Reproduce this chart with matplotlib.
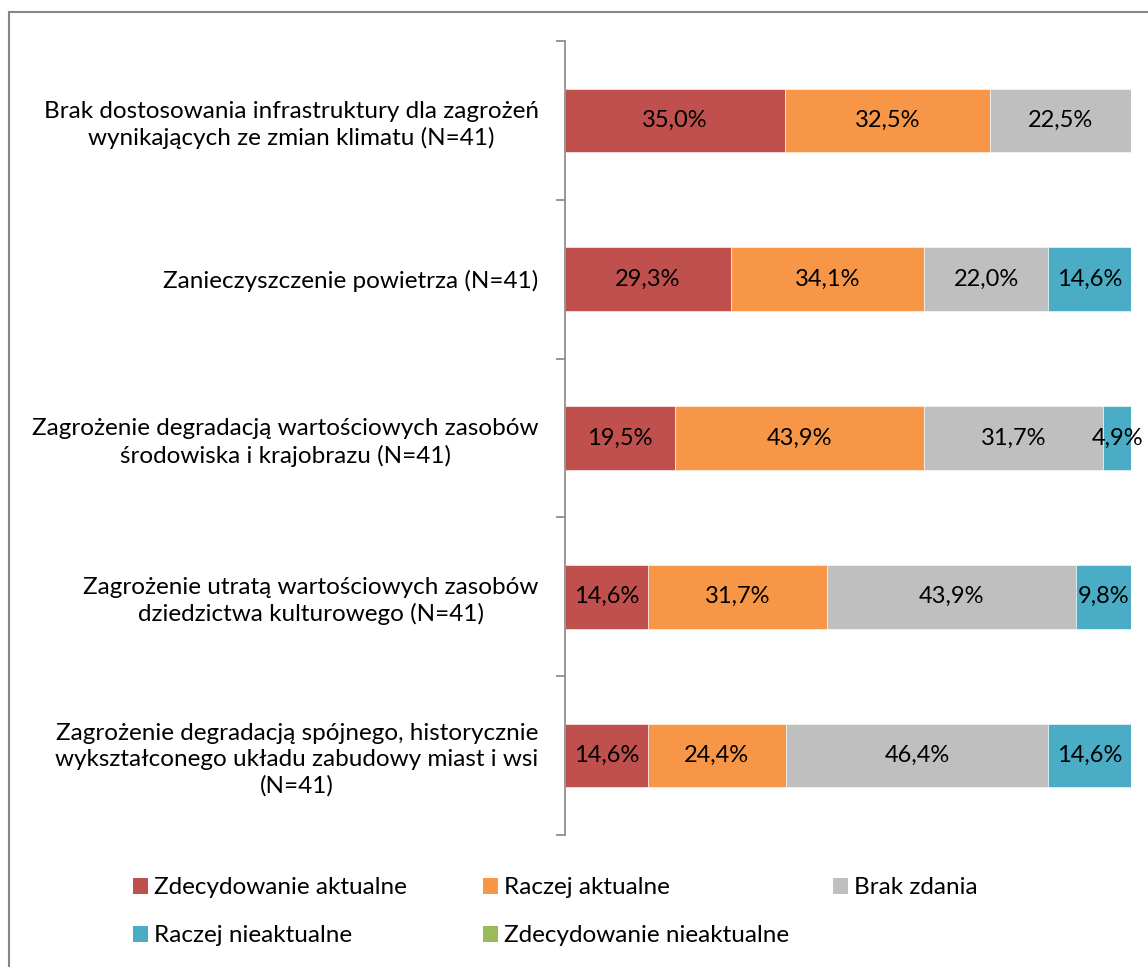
import matplotlib
matplotlib.use("Agg")
import matplotlib.pyplot as plt
from matplotlib.patches import Patch, Rectangle
import numpy as np

plt.rcParams['font.family'] = ['Lato', 'DejaVu Sans']

categories = [
    "Brak dostosowania infrastruktury dla zagrożeń\nwynikających ze zmian klimatu (N=41)",
    "Zanieczyszczenie powietrza (N=41)",
    "Zagrożenie degradacją wartościowych zasobów\nśrodowiska i krajobrazu (N=41)",
    "Zagrożenie utratą wartościowych zasobów\ndziedzictwa kulturowego (N=41)",
    "Zagrożenie degradacją spójnego, historycznie\nwykształconego układu zabudowy miast i wsi\n(N=41)",
]
series_names = ["Zdecydowanie aktualne", "Raczej aktualne", "Brak zdania",
                "Raczej nieaktualne", "Zdecydowanie nieaktualne"]
zdecydowanie_aktualne = [35.0, 29.3, 19.5, 14.6, 14.6]
raczej_aktualne = [32.5, 34.1, 43.9, 31.7, 24.4]
brak_zdania = [22.5, 22.0, 31.7, 43.9, 46.4]
raczej_nieaktualne = [0.0, 14.6, 4.9, 9.8, 14.6]
zdecydowanie_nieaktualne = [0.0, 0.0, 0.0, 0.0, 0.0]
colors = ["#C0504D", "#F79646", "#BFBFBF", "#4BACC6", "#9BBB59"]

vals = np.array([zdecydowanie_aktualne, raczej_aktualne, brak_zdania,
                 raczej_nieaktualne, zdecydowanie_nieaktualne])
# 100% stacked: widths normalised per category
shares = vals / vals.sum(axis=0) * 100

FS = 17.5
W, H = 1148, 967
fig = plt.figure(figsize=(W / 100, H / 100), dpi=100)
ax = fig.add_axes([565 / W, 1 - 835 / H, (1131 - 565) / W, (835 - 41) / H])

y = np.arange(len(categories))
left = np.zeros(len(categories))
for i in range(len(series_names)):
    bars = ax.barh(y, shares[i], left=left, height=0.40, color=colors[i],
                   edgecolor="white", linewidth=0.4, label=series_names[i])
    for j, b in enumerate(bars):
        if vals[i, j] > 0:
            ax.text(left[j] + shares[i, j] / 2, y[j],
                    ("%.1f%%" % vals[i, j]).replace(".", ","),
                    ha="center", va="center", fontsize=17, color="black")
    left += shares[i]

ax.set_xlim(0, 100)
ax.set_ylim(len(categories) - 0.5, -0.5)
ax.set_yticks(y)
ax.set_yticklabels(categories, fontsize=FS, multialignment="center", linespacing=1.28)
ax.set_yticks(np.arange(len(categories) + 1) - 0.5, minor=True)
ax.tick_params(axis="y", which="major", length=0, pad=19)
ax.tick_params(axis="y", which="minor", length=6.5, width=1.2, color="#868686", direction="out")
ax.set_xticks([])
for s in ["top", "right", "bottom"]:
    ax.spines[s].set_visible(False)
ax.spines["left"].set_color("#868686")
ax.spines["left"].set_linewidth(1.2)

# legend, fixed column positions
legend_pos = [(133, 888), (483, 888), (833, 888), (133, 936), (483, 936)]
for name, c, (lx, ly) in zip(series_names, colors, legend_pos):
    fig.legend(handles=[Patch(facecolor=c, edgecolor="none")], labels=[name],
               loc="center left", bbox_to_anchor=(lx / W, 1 - ly / H),
               frameon=False, fontsize=FS, handlelength=0.6, handleheight=0.6,
               handletextpad=0.25, borderpad=0, borderaxespad=0)

# outer chart border (right/bottom fall outside the image)
fig.patches.append(Rectangle((8.5 / W, -0.1), 1.2, 1.1 - 11.5 / H,
                             transform=fig.transFigure, fill=False,
                             edgecolor="#868686", linewidth=1.5))

fig.savefig("out.png", dpi=100)
